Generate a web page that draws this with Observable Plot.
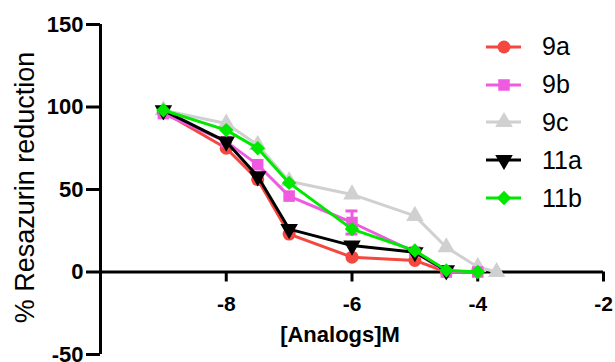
<!DOCTYPE html>
<html>
<head>
<meta charset="utf-8">
<script src="https://cdn.jsdelivr.net/npm/d3@7"></script>
<script src="https://cdn.jsdelivr.net/npm/@observablehq/plot@0.6"></script>
<style>
  html, body { margin: 0; padding: 0; background: #fff; }
  #wrap { position: relative; width: 615px; height: 362px; font-family: "Liberation Sans", Arial, sans-serif; }
  #legend { position: absolute; left: 484px; top: 28px; }
  .row { display: flex; align-items: center; height: 37.8px; }
  .row span { font-size: 25px; margin-left: 20px; line-height: 1; }
</style>
</head>
<body>
<div id="wrap"><div id="legend"></div></div>
<script>
// ---- data ----
const xDomain = [-10, -2];
const yDomain = [-50, 150];
const xTicks = [-8, -6, -4, -2];
const yTicks = [-50, 0, 50, 100, 150];
const xLabel = "[Analogs]M";
const yLabel = "% Resazurin reduction";

const x9a  = [-9, -8, -7.5, -7, -6, -5, -4.5];
const y9a  = [97, 75, 56, 23, 9, 7, 0];
const x9b  = [-9, -8, -7.5, -7, -6, -5, -4.5, -4];
const y9b  = [96, 79, 65, 46, 30, 12, 0, 0];
const x9c  = [-9, -8, -7.5, -7, -6, -5, -4.5, -4, -3.7];
const y9c  = [98, 90, 77, 55, 47, 34, 15, 3, 0];
const x11a = [-9, -8, -7.5, -7, -6, -5, -4.5];
const y11a = [98, 79, 58, 26, 16, 12, 1];
const x11b = [-9, -8, -7.5, -7, -6, -5, -4.5, -4];
const y11b = [98, 86, 75, 54, 26, 13, 1, 0];

// error bar (9b)
const err9bX  = [-6];
const err9bLo = [23];
const err9bHi = [37];

const seriesNames  = ["9a", "9b", "9c", "11a", "11b"];
const seriesColors = ["#f4473f", "#ee5be0", "#d0d0d0", "#000000", "#00e800"];
const seriesSymbols = ["circle", "square", "triangle", "triangle", "diamond2"];
const seriesRotate = [0, 0, 0, 180, 0];
const seriesX = [x9a, x9b, x9c, x11a, x11b];
const seriesY = [y9a, y9b, y9c, y11a, y11b];
const drawOrder = [2, 0, 1, 3, 4];

const font = "Liberation Sans, Arial, sans-serif";

const marks = [];
// axes lines
marks.push(Plot.ruleY([0], {x1: xDomain[0], x2: xDomain[1], stroke: "#000", strokeWidth: 3}));
marks.push(Plot.ruleX([xDomain[0]], {y1: yDomain[0], y2: yDomain[1], stroke: "#000", strokeWidth: 3}));
// x ticks at y = 0
marks.push(Plot.ruleX(xTicks, {x: d => d, y1: 0, y2: 0, insetBottom: -10, stroke: "#000", strokeWidth: 3}));
marks.push(Plot.text(xTicks, {x: d => d, y: 0, dy: 32, text: d => String(d), fontSize: 21, fontWeight: "bold", fill: "#000"}));
// y axis ticks
marks.push(Plot.axisY({ticks: yTicks, tickSize: 14, tickPadding: 3, tickFormat: d => String(d), fontSize: 22, fontWeight: "bold", strokeWidth: 3, label: null, anchor: "left"}));
// labels
marks.push(Plot.text([yLabel], {frameAnchor: "left", dx: -75, dy: -2, rotate: -90, text: d => d, textAnchor: "middle", lineAnchor: "middle", fontSize: 27, fill: "#000"}));
marks.push(Plot.text([xLabel], {frameAnchor: "bottom", dx: -12, dy: -20, text: d => d, textAnchor: "middle", lineAnchor: "middle", fontSize: 22, fontWeight: "bold", fill: "#000"}));

for (const i of drawOrder) {
  const rows = seriesX[i].map((x, j) => ({x, y: seriesY[i][j]}));
  const c = seriesColors[i];
  if (seriesNames[i] === "9b") {
    const er = err9bX.map((x, j) => ({x, lo: err9bLo[j], hi: err9bHi[j]}));
    marks.push(Plot.ruleX(er, {x: "x", y1: "lo", y2: "hi", stroke: c, strokeWidth: 3}));
    marks.push(Plot.ruleY(er, {y: "hi", x1: "x", x2: "x", insetLeft: -6, insetRight: -6, stroke: c, strokeWidth: 3}));
    marks.push(Plot.ruleY(er, {y: "lo", x1: "x", x2: "x", insetLeft: -6, insetRight: -6, stroke: c, strokeWidth: 3}));
  }
  marks.push(Plot.line(rows, {x: "x", y: "y", stroke: c, strokeWidth: 3}));
  marks.push(Plot.dot(rows, {x: "x", y: "y", fill: c, stroke: "none", symbol: seriesSymbols[i], r: 6.5, rotate: seriesRotate[i]}));
}

const chart = Plot.plot({
  width: 615,
  height: 362,
  marginLeft: 100,
  marginRight: 12,
  marginTop: 24,
  marginBottom: 8,
  x: {domain: xDomain, axis: null},
  y: {domain: yDomain, axis: null},
  style: {fontFamily: font, background: "#fff", color: "#000", overflow: "visible"},
  marks
});
const wrap = document.getElementById("wrap");
wrap.insertBefore(chart, wrap.firstChild);

// legend
const legend = document.getElementById("legend");
const symMap = {circle: d3.symbolCircle, square: d3.symbolSquare, triangle: d3.symbolTriangle, diamond2: d3.symbolDiamond2};
seriesNames.forEach((name, i) => {
  const row = document.createElement("div");
  row.className = "row";
  const ns = "http://www.w3.org/2000/svg";
  const svg = document.createElementNS(ns, "svg");
  svg.setAttribute("width", 38);
  svg.setAttribute("height", 20);
  const line = document.createElementNS(ns, "line");
  line.setAttribute("x1", 2); line.setAttribute("x2", 37);
  line.setAttribute("y1", 10); line.setAttribute("y2", 10);
  line.setAttribute("stroke", seriesColors[i]); line.setAttribute("stroke-width", 3);
  svg.appendChild(line);
  const p = document.createElementNS(ns, "path");
  p.setAttribute("d", d3.symbol(symMap[seriesSymbols[i]], Math.PI * 6.5 * 6.5)());
  p.setAttribute("transform", `translate(20,10) rotate(${seriesRotate[i]})`);
  p.setAttribute("fill", seriesColors[i]);
  svg.appendChild(p);
  row.appendChild(svg);
  const t = document.createElement("span");
  t.textContent = name;
  row.appendChild(t);
  legend.appendChild(row);
});
</script>
</body>
</html>
